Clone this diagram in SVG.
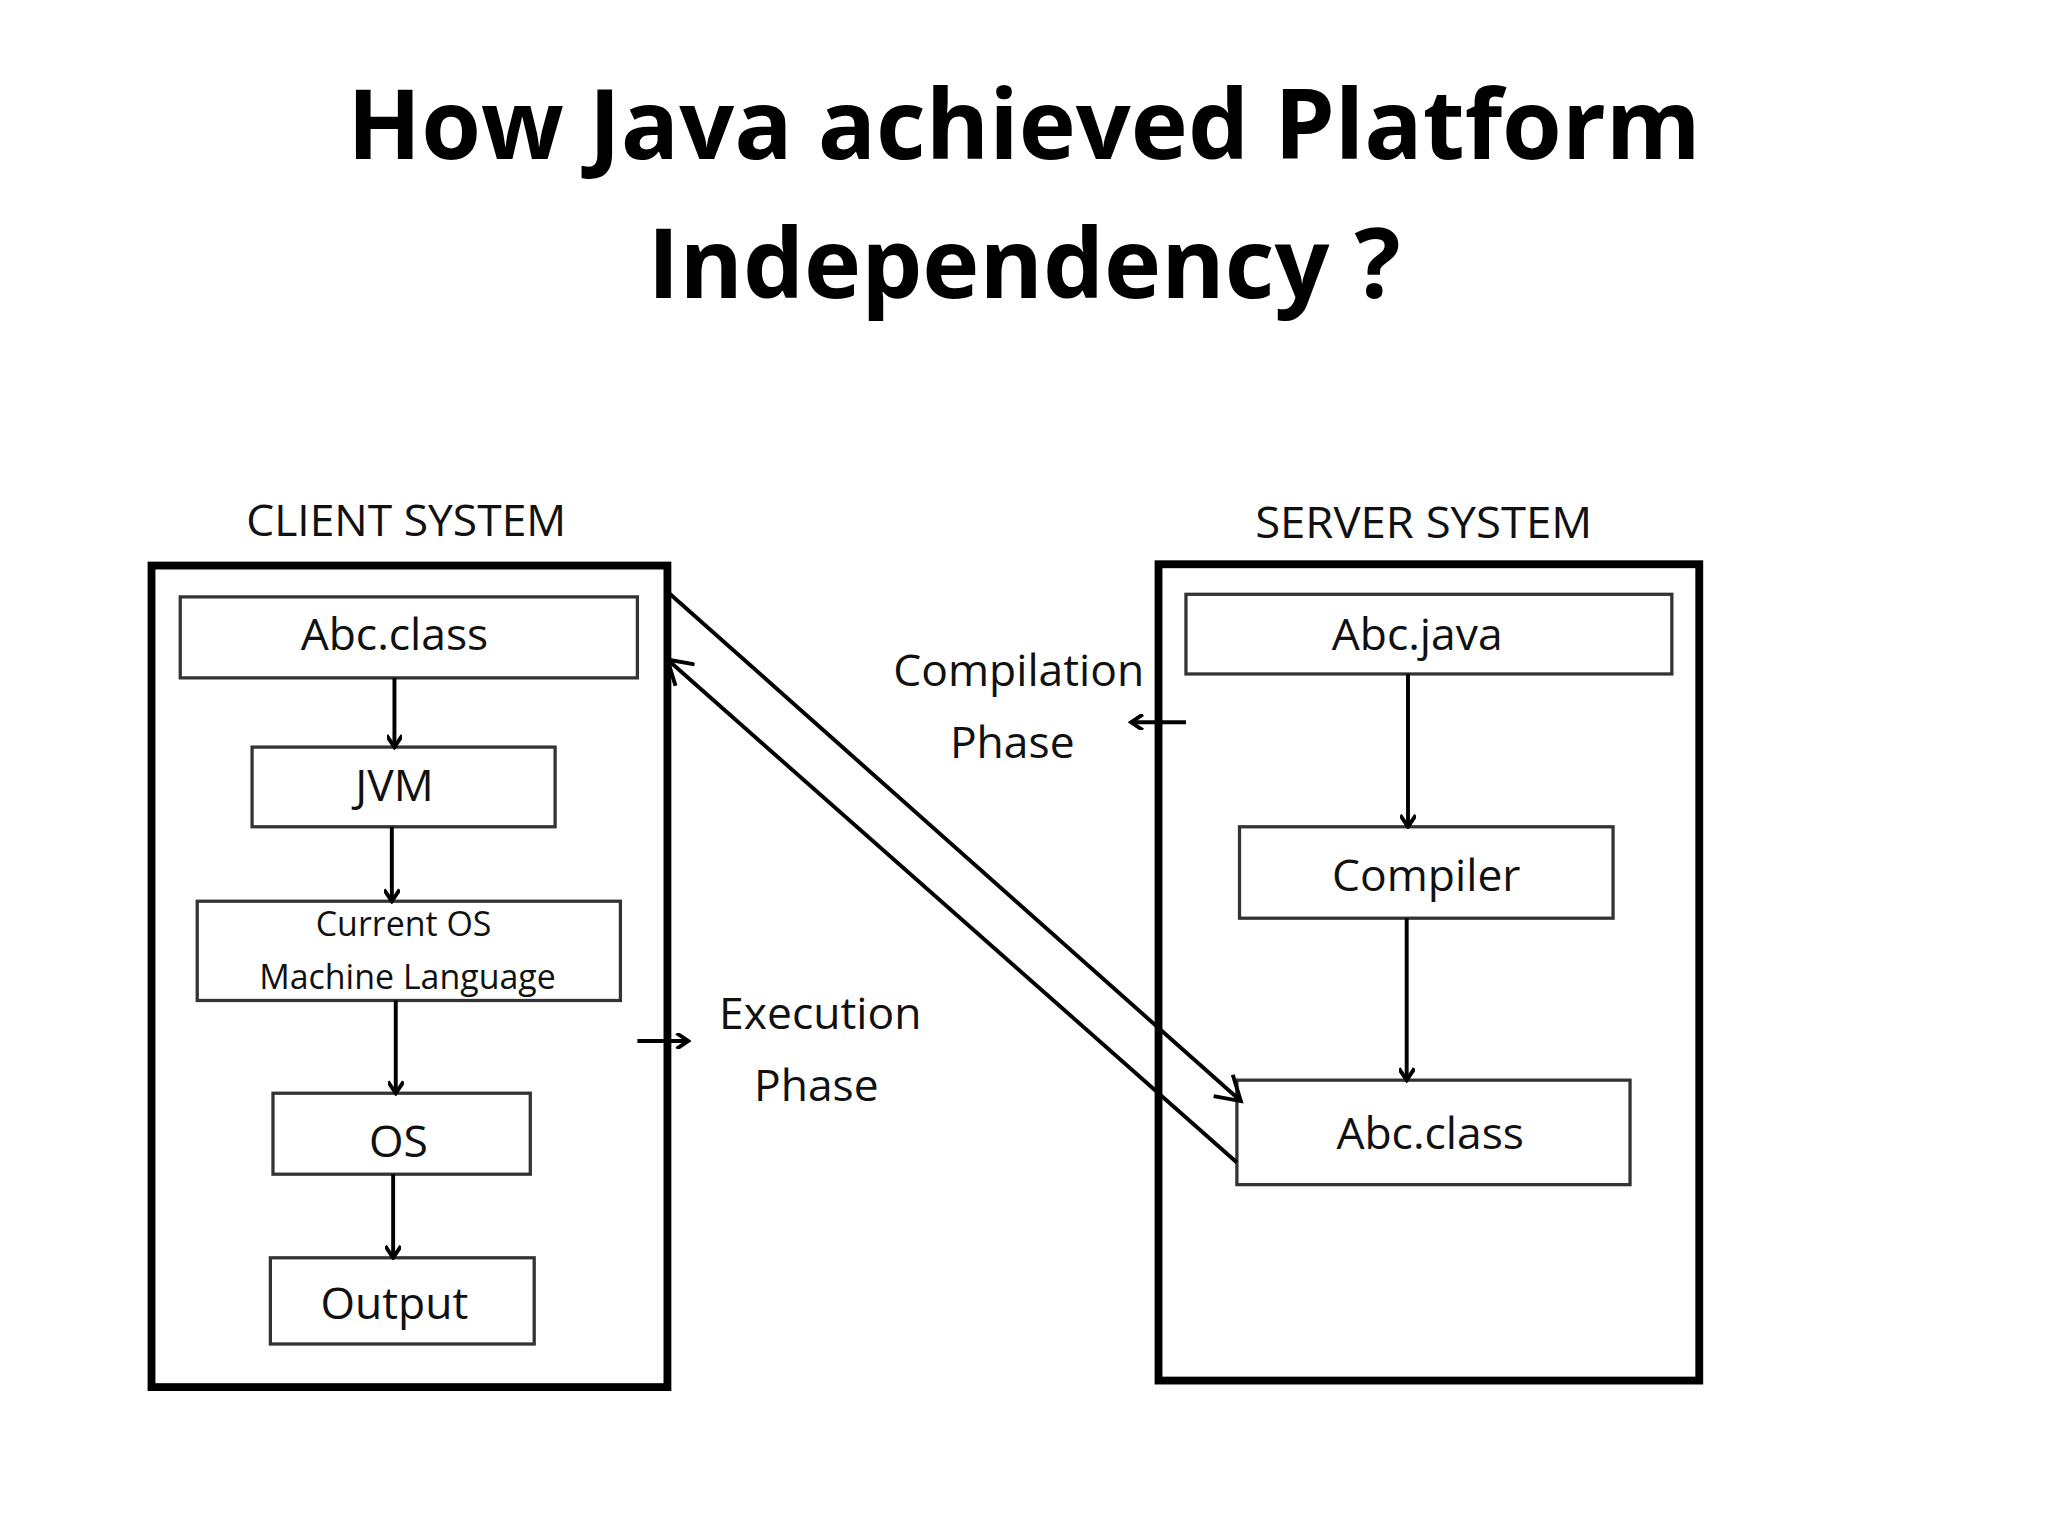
<svg xmlns="http://www.w3.org/2000/svg" width="2048" height="1536" viewBox="0 0 2048 1536">
<style>
.t{font-family:"Open Sans","Liberation Sans",sans-serif;font-weight:bold;font-size:74px;text-anchor:middle;fill:#000}
.l{font-family:"Open Sans","Liberation Sans",sans-serif;font-size:34px;text-anchor:middle;fill:#111}
.s{font-size:26px}
.b{fill:#fff;stroke:#333;stroke-width:2.5}
.o{fill:none;stroke:#000;stroke-width:6}
.c{fill:none;stroke:#000;stroke-width:3}
</style>
<defs><marker id="a" markerWidth="12" markerHeight="12" refX="10" refY="6" orient="auto" markerUnits="userSpaceOnUse"><path d="M1,0 L10,6 L1,12" fill="none" stroke="#000" stroke-width="3"/></marker>
<marker id="a2" markerWidth="24" markerHeight="24" refX="20" refY="12" orient="auto" markerUnits="userSpaceOnUse"><path d="M2,1 L20,12 L2,23" fill="none" stroke="#000" stroke-width="3"/></marker></defs>
<rect width="2048" height="1536" fill="#fff"/>
<g transform="scale(1.30612)">
<text class="t" x="784" y="122">How Java achieved Platform</text>
<text class="t" x="784" y="228">Independency ?</text>
<g id="client"><rect class="o" x="116" y="433" width="395" height="629"/><text class="l" x="311" y="410" textLength="245" lengthAdjust="spacingAndGlyphs">CLIENT SYSTEM</text></g>
<g id="server"><rect class="o" x="887" y="432" width="414" height="625"/><text class="l" x="1090" y="412" textLength="258" lengthAdjust="spacingAndGlyphs">SERVER SYSTEM</text></g>
<g id="c1"><rect class="b" x="138" y="457" width="350" height="62"/><text class="l" x="302" y="498">Abc.class</text></g>
<g id="c2"><rect class="b" x="193" y="572" width="232" height="61"/><text class="l" x="302" y="613">JVM</text></g>
<g id="c3"><rect class="b" x="151" y="690" width="324" height="76"/><text class="l s" x="309" y="717">Current OS</text><text class="l s" x="312" y="757">Machine Language</text></g>
<g id="c4"><rect class="b" x="209" y="837" width="197" height="62"/><text class="l" x="305" y="886">OS</text></g>
<g id="c5"><rect class="b" x="207" y="963" width="202" height="66"/><text class="l" x="302" y="1010">Output</text></g>
<g id="s1"><rect class="b" x="908" y="455" width="372" height="61"/><text class="l" x="1085" y="498">Abc.java</text></g>
<g id="s2"><rect class="b" x="949" y="633" width="286" height="70"/><text class="l" x="1092" y="682">Compiler</text></g>
<g id="s3"><rect class="b" x="947" y="827" width="301" height="80"/><text class="l" x="1095" y="880">Abc.class</text></g>
<g id="labels"><text class="l" x="780" y="525">Compilation</text><text class="l" x="775" y="580">Phase</text>
<text class="l" x="628" y="788">Execution</text><text class="l" x="625" y="843">Phase</text></g>
<g id="connectors">
<line class="c" x1="302" y1="519" x2="302" y2="572" marker-end="url(#a)"/>
<line class="c" x1="300" y1="633" x2="300" y2="690" marker-end="url(#a)"/>
<line class="c" x1="303" y1="766" x2="303" y2="837" marker-end="url(#a)"/>
<line class="c" x1="301" y1="899" x2="301" y2="963" marker-end="url(#a)"/>
<line class="c" x1="1078" y1="516" x2="1078" y2="633" marker-end="url(#a)"/>
<line class="c" x1="1077" y1="703" x2="1077" y2="827" marker-end="url(#a)"/>
<line class="c" x1="511" y1="453" x2="950" y2="843" marker-end="url(#a2)"/>
<line class="c" x1="947" y1="890" x2="511" y2="505" marker-end="url(#a2)"/>
<line class="c" x1="908" y1="553" x2="866" y2="553" marker-end="url(#a)"/>
<line class="c" x1="488" y1="797" x2="527" y2="797" marker-end="url(#a)"/>
</g>
</g>
</svg>
